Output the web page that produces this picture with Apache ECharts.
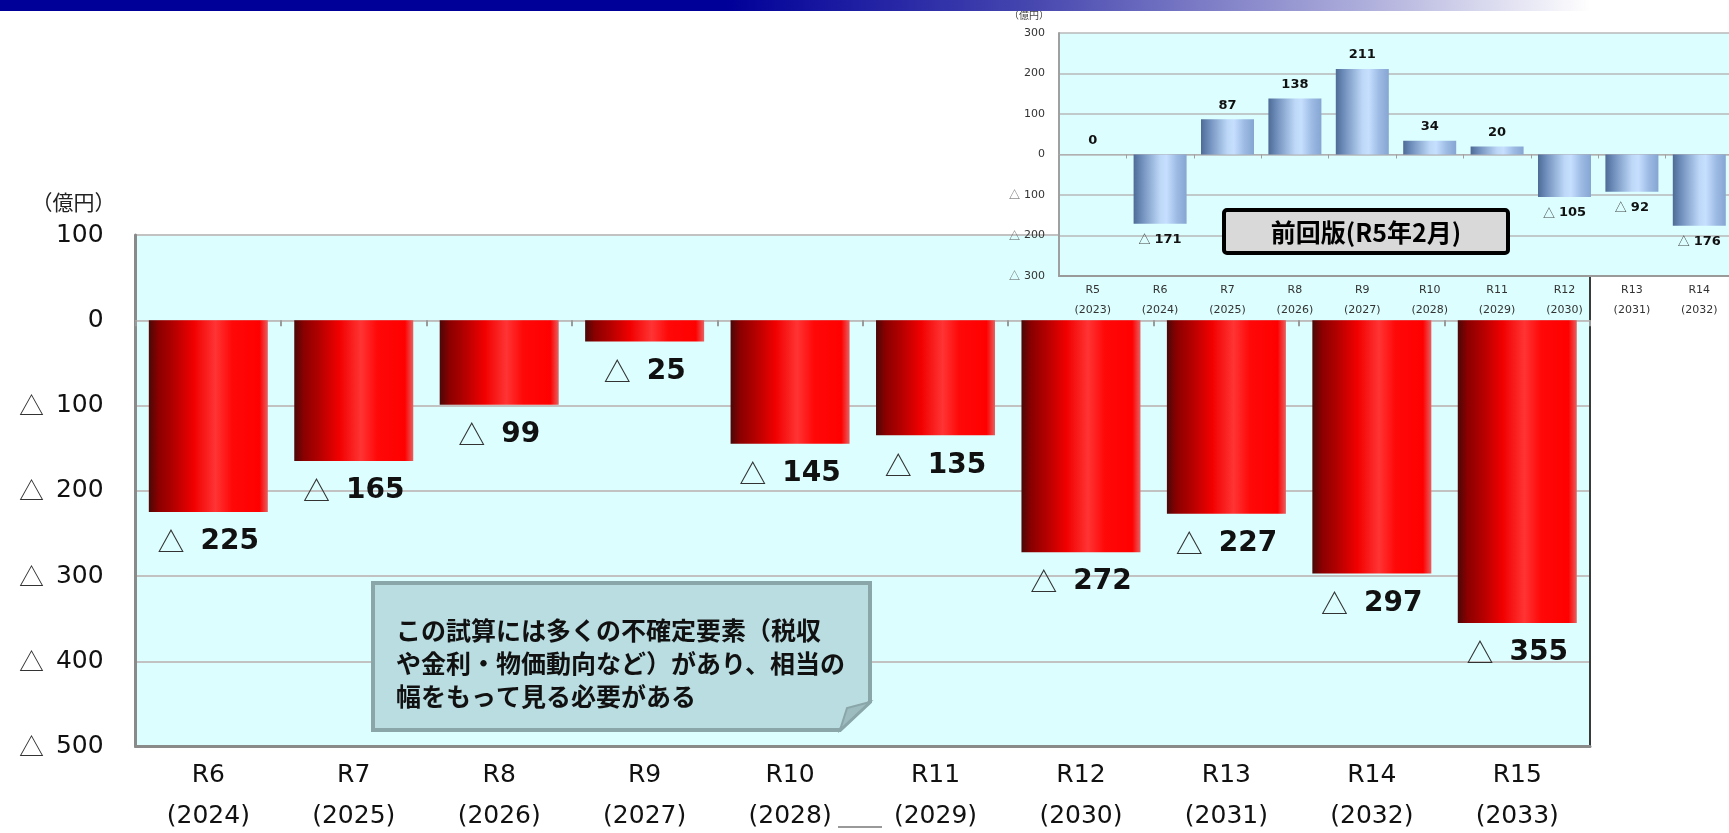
<!DOCTYPE html>
<html><head><meta charset="utf-8">
<script src="https://cdn.jsdelivr.net/npm/echarts@6/dist/echarts.min.js"></script>
<style>html,body{margin:0;padding:0;background:#fff}#c{width:1729px;height:833px}</style>
</head><body><div id="c"></div>
<script>
// ---- data (main chart) ----
const categories = ['R6','R7','R8','R9','R10','R11','R12','R13','R14','R15'];
const years = ['2024','2025','2026','2027','2028','2029','2030','2031','2032','2033'];
const values = [-225,-165,-99,-25,-145,-135,-272,-227,-297,-355];
const yMin = -500, yMax = 100, yStep = 100;
const unitLabel = '（億円）';
// ---- data (inset: previous version) ----
const prevCategories = ['R5','R6','R7','R8','R9','R10','R11','R12','R13','R14'];
const prevYears = ['2023','2024','2025','2026','2027','2028','2029','2030','2031','2032'];
const prevValues = [0,-171,87,138,211,34,20,-105,-92,-176];
const prevMin = -300, prevMax = 300, prevStep = 100;
const prevTitle = '前回版(R5年2月)';
const noteLines = ['この試算には多くの不確定要素（税収','や金利・物価動向など）があり、相当の','幅をもって見る必要がある'];

const CJK = '"Noto Sans CJK JP", sans-serif';
const LAT = '"DejaVu Sans", Verdana, sans-serif';
const LG = echarts.graphic.LinearGradient;

function valLabel(v){ return v < 0 ? '{t|△}{n|' + (-v) + '}' : '{n|' + v + '}'; }
function axisVal(v){ return v < 0 ? '{t|△}' + (-v) : String(v); }

const redGrad = new LG(0,0,1,0,[
  {offset:0,color:'#4a0808'},{offset:0.08,color:'#8a0000'},{offset:0.2,color:'#b00000'},
  {offset:0.38,color:'#f20000'},{offset:0.56,color:'#ff3434'},{offset:0.7,color:'#ff0808'},
  {offset:0.93,color:'#ff0000'},{offset:1,color:'#e86060'}]);
const blueGrad = new LG(0,0,1,0,[
  {offset:0,color:'#4e6b96'},{offset:0.15,color:'#6e8dba'},{offset:0.5,color:'#bcd7f7'},
  {offset:0.62,color:'#c6dfff'},{offset:0.82,color:'#9cbae3'},{offset:1,color:'#86a5d2'}]);

const chart = echarts.init(document.getElementById('c'));
const option = {
  animation: false,
  backgroundColor: '#ffffff',
  grid: [
    {left:135.6, top:235, right:139, bottom:86.5, show:true, backgroundColor:'#dcfefe', borderWidth:0, z:0,
     containLabel:false, outerBoundsMode:'none'},
    {left:1059, top:33, width:674, height:243, show:true, backgroundColor:'#dcfefe', borderWidth:0, z:10,
     containLabel:false, outerBoundsMode:'none'}
  ],
  xAxis: [
    {type:'category', gridIndex:0, data:categories, position:'bottom',
     axisLine:{show:true, onZero:false, lineStyle:{color:'#8a8a8a', width:3}},
     axisTick:{show:false},
     axisLabel:{color:'#111', fontFamily:LAT, fontSize:25, lineHeight:41, margin:8,
       formatter:(v,i)=> v + '\n(' + years[i] + ')'}},
    {type:'category', gridIndex:0, data:categories, position:'top',
     axisLine:{show:true, onZero:true, lineStyle:{color:'#bdbdbd', width:1}},
     axisTick:{show:true, inside:true, length:6, lineStyle:{color:'#9a9a9a', width:2}},
     axisLabel:{show:false}},
    {type:'category', gridIndex:1, data:prevCategories, position:'bottom', z:11,
     axisLine:{show:true, onZero:false, lineStyle:{color:'#9a9a9a', width:2}},
     axisTick:{show:false},
     axisLabel:{color:'#333', fontFamily:LAT, fontSize:11, lineHeight:20, margin:4,
       formatter:(v,i)=> v + '\n(' + prevYears[i] + ')'}},
    {type:'category', gridIndex:1, data:prevCategories, position:'top', z:11,
     axisLine:{show:true, onZero:true, lineStyle:{color:'#b0b0b0', width:1}},
     axisTick:{show:true, inside:true, length:4, lineStyle:{color:'#a0a0a0'}},
     axisLabel:{show:false}}
  ],
  yAxis: [
    {type:'value', gridIndex:0, min:yMin, max:yMax, interval:yStep, position:'left',
     name:unitLabel, nameLocation:'end', nameGap:33,
     nameTextStyle:{fontFamily:CJK, fontSize:21, color:'#222', align:'right', verticalAlign:'middle', padding:[0,20,0,0]},
     axisLine:{show:true, lineStyle:{color:'#8a8a8a', width:3}},
     axisTick:{show:false},
     splitLine:{show:true, lineStyle:{color:'#c2c2c2', width:2}},
     axisLabel:{color:'#111', fontFamily:LAT, fontSize:25, margin:32, formatter:axisVal,
       rich:{t:{fontFamily:CJK, fontSize:25, color:'#333', padding:[0,12,0,0]}}}},
    {type:'value', gridIndex:0, min:yMin, max:yMax, interval:yStep, position:'right',
     axisLine:{show:true, lineStyle:{color:'#3a3a3a', width:2}},
     axisTick:{show:false}, axisLabel:{show:false}, splitLine:{show:false}},
    {type:'value', gridIndex:1, min:prevMin, max:prevMax, interval:prevStep, position:'left', z:11,
     name:unitLabel, nameLocation:'end', nameGap:18,
     nameTextStyle:{fontFamily:CJK, fontSize:10, color:'#444', align:'right', verticalAlign:'middle', padding:[0,10,0,0]},
     axisLine:{show:true, lineStyle:{color:'#a0a0a0', width:2}},
     axisTick:{show:false},
     splitLine:{show:true, lineStyle:{color:'#b8b8b8', width:1.5}},
     axisLabel:{color:'#333', fontFamily:LAT, fontSize:11, margin:14, formatter:axisVal,
       rich:{t:{fontFamily:CJK, fontSize:11, color:'#555', padding:[0,4,0,0]}}}}
  ],
  series: [
    {type:'bar', xAxisIndex:0, yAxisIndex:0, barWidth:119,
     data: values.map(v => ({value:v, label:{position: v < 0 ? 'bottom' : 'top'}})),
     itemStyle:{color:redGrad},
     label:{show:true, distance:14, lineHeight:32, formatter:p => valLabel(p.value),
       rich:{t:{fontFamily:CJK, fontSize:27, color:'#333', lineHeight:32, padding:[0,16,0,0]},
             n:{fontFamily:LAT, fontWeight:'bold', fontSize:28, color:'#111', lineHeight:32}}}},
    {type:'bar', xAxisIndex:2, yAxisIndex:2, barWidth:53, z:12,
     data: prevValues.map(v => ({value:v, label:{position: v < 0 ? 'bottom' : 'top', distance: v < 0 ? 8 : 6}})),
     itemStyle:{color:blueGrad},
     label:{show:true, lineHeight:16, formatter:p => valLabel(p.value),
       rich:{t:{fontFamily:CJK, fontSize:12, color:'#444', lineHeight:16, padding:[0,4,0,0]},
             n:{fontFamily:LAT, fontWeight:'bold', fontSize:13, color:'#111', lineHeight:16}}}}
  ],
  graphic: [
    {type:'rect', z:30, silent:true, shape:{x:0, y:0, width:1729, height:11},
     style:{fill:new LG(0,0,1,0,[{offset:0,color:'#000099'},{offset:0.42,color:'#000099'},
       {offset:0.6,color:'#4848b0'},{offset:0.8,color:'#b4b4de'},{offset:0.92,color:'#ffffff'},{offset:1,color:'#ffffff'}])}},
    {type:'polygon', z:20, shape:{points:[[373,583],[870,583],[870,702],[840,730],[373,730]]},
     style:{fill:'#b9dde1', stroke:'#8aa6a9', lineWidth:4}},
    {type:'polygon', z:21, shape:{points:[[840,730],[847,708],[870,702]]},
     style:{fill:'#9cbcbf', stroke:'#8aa6a9', lineWidth:2}},
    {type:'text', z:22, x:396, y:614,
     style:{text:noteLines.join('\n'), fontFamily:CJK, fontWeight:'bold', fontSize:25, lineHeight:33, fill:'#111'}},
    {type:'rect', z:40, shape:{x:1224, y:210, width:284, height:43, r:3},
     style:{fill:'#d9d9d9', stroke:'#000', lineWidth:4}},
    {type:'text', z:41, x:1366, y:232,
     style:{text:prevTitle, fontFamily:CJK, fontWeight:'bold', fontSize:25, fill:'#000', align:'center', verticalAlign:'middle'}},
    {type:'line', z:20, shape:{x1:838, y1:827, x2:882, y2:827}, style:{stroke:'#999', lineWidth:2}}
  ]
};
chart.setOption(option);
</script>
</body></html>
